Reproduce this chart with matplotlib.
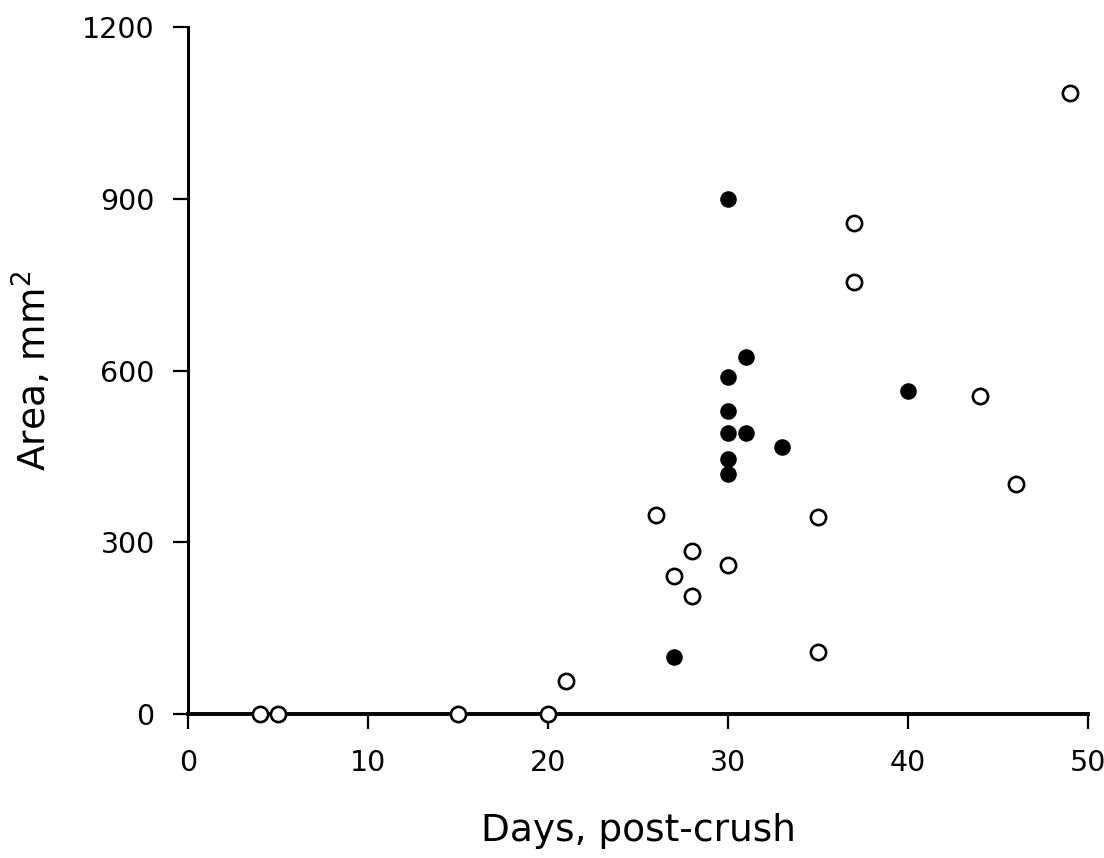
import matplotlib
matplotlib.use("Agg")
import matplotlib.pyplot as plt

# open circles
open_days = [4, 5, 15, 20, 21, 26, 27, 28, 28, 30, 35, 35, 37, 37, 44, 46, 49]
open_area = [0, 0, 0, 0, 57, 347, 241, 284, 207, 261, 344, 108, 858, 754, 556, 401, 1085]

# filled circles
filled_days = [27, 30, 30, 30, 30, 31, 31, 33, 30, 30, 40]
filled_area = [100, 900, 588, 530, 491, 491, 623, 466, 446, 419, 565]

x_ticks = [0, 10, 20, 30, 40, 50]
y_ticks = [0, 300, 600, 900, 1200]

plt.rcParams["font.family"] = ["DejaVu Sans"]

fig = plt.figure(figsize=(11.04, 8.58), dpi=100)
ax = fig.add_axes([0.1703, 0.1678, 0.8152, 0.8007])

ax.scatter(open_days, open_area, s=120, facecolors="white", edgecolors="black",
           linewidths=1.9, zorder=3, clip_on=False)
ax.scatter(filled_days, filled_area, s=115, facecolors="black", edgecolors="black",
           linewidths=1.2, zorder=4, clip_on=False)

ax.set_xlim(0, 50)
ax.set_ylim(0, 1200)
ax.set_xticks(x_ticks)
ax.set_yticks(y_ticks)

for side in ("top", "right"):
    ax.spines[side].set_visible(False)
ax.spines["left"].set_linewidth(2.2)
ax.spines["bottom"].set_linewidth(2.8)

ax.tick_params(axis="both", direction="out", width=1.6, labelsize=20.5, colors="black")
ax.tick_params(axis="x", length=11, pad=14)
ax.tick_params(axis="y", length=11, pad=13)

ax.set_xlabel("Days, post-crush", fontsize=27, labelpad=26)
ax.set_ylabel("Area, mm$^2$", fontsize=27, labelpad=20)

fig.savefig("out.png", dpi=100)
